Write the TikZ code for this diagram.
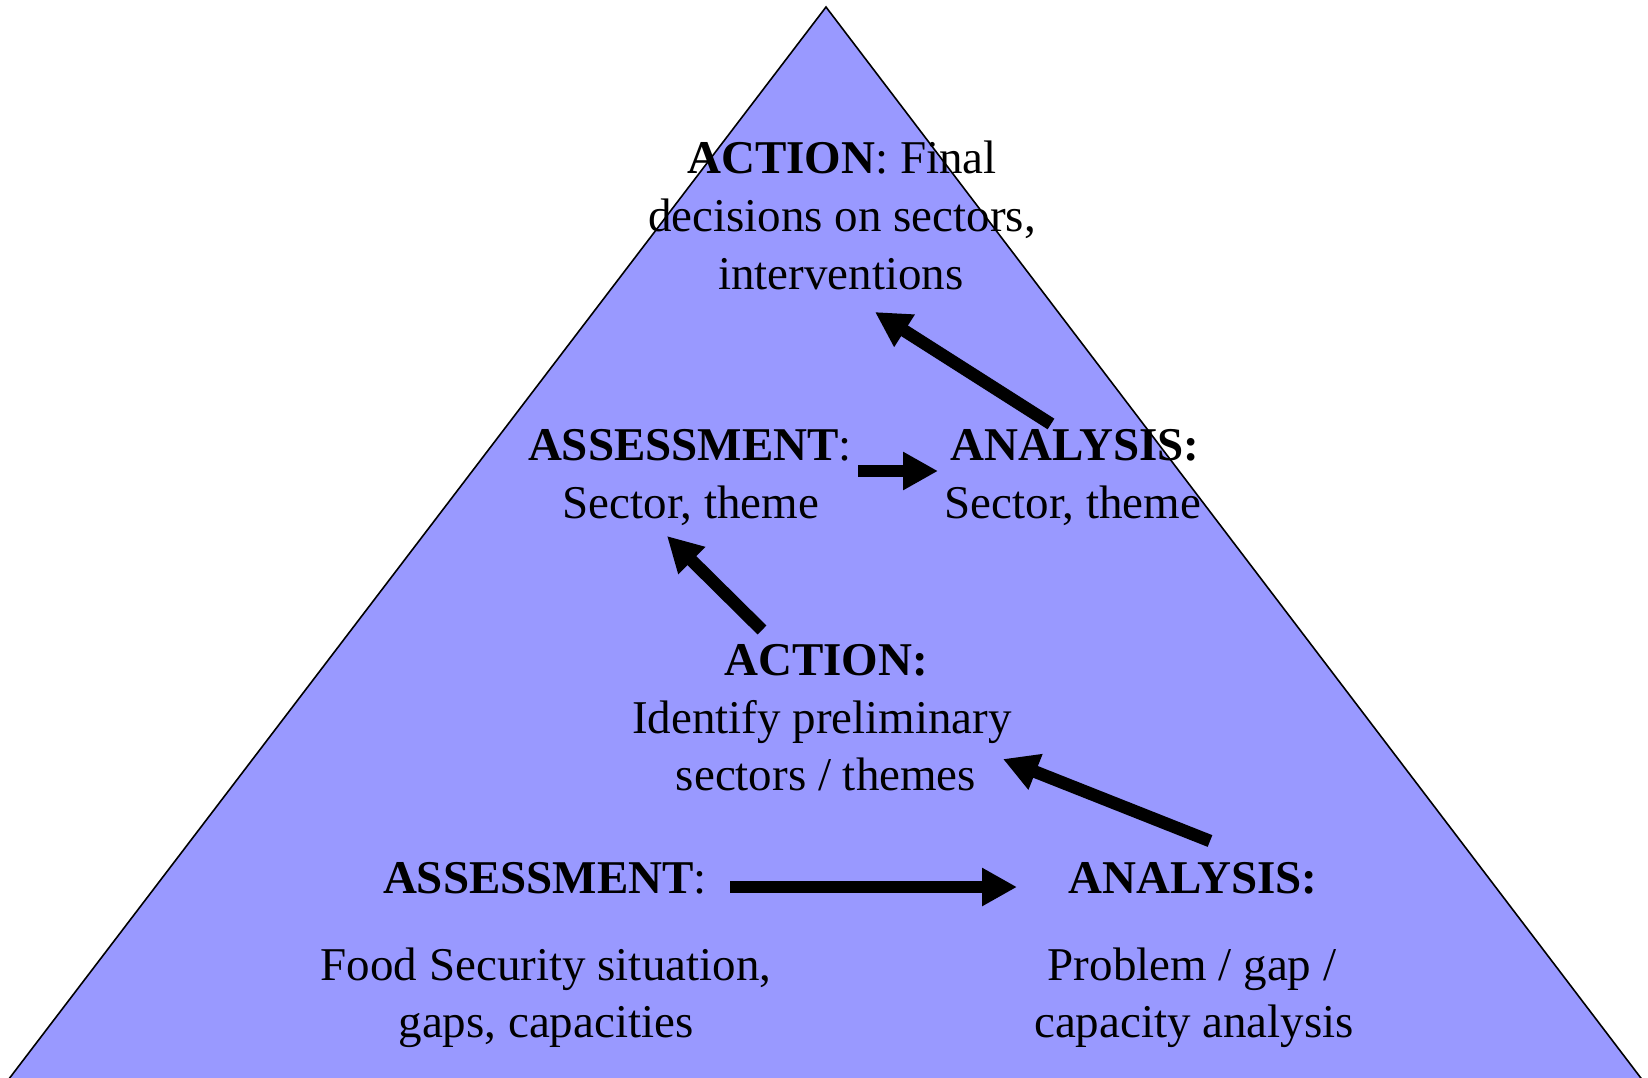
\documentclass[tikz,border=0pt]{standalone}
\usepackage{fontspec}
\setmainfont{Liberation Serif}
\usetikzlibrary{arrows.meta}
\definecolor{pyramid}{RGB}{153,153,255}
\begin{document}
\begin{tikzpicture}[x=0.5pt,y=-0.5pt,
  label/.style={anchor=base,inner sep=0pt,font=\fontsize{23.5}{28}\selectfont},
  flow/.style={line width=6.3pt,-{Triangle[length=17.5pt,width=18pt]}}]
\useasboundingbox (0,0) rectangle (1648,1077);
% pyramid, its base running past the lower edge
\begin{scope}
  \clip (0,0) rectangle (1648,1077);
  \filldraw[fill=pyramid,draw=black,line width=0.8pt]
    (826,7) -- (1650,1090) -- (0.5,1090) -- cycle;
\end{scope}

% top level
\node[label] (topA) at (842,173) {\textbf{ACTION}: Final};
\node[label] (topB) at (842,231) {decisions on sectors,};
\node[label] (topC) at (841,289) {interventions};

% second level
\node[label] (asA) at (690,460) {\textbf{ASSESSMENT}:};
\node[label] (asB) at (691,518) {Sector, theme};
\node[label] (anA) at (1075,460) {\textbf{ANALYSIS:}};
\node[label] (anB) at (1073,518) {Sector, theme};

% third level
\node[label] (acA) at (826,675) {\textbf{ACTION:}};
\node[label] (acB) at (822,733) {Identify preliminary};
\node[label] (acC) at (826,790) {sectors / themes};

% base level
\node[label] (basA) at (545,893) {\textbf{ASSESSMENT}:};
\node[label] (basB) at (546,980) {Food Security situation,};
\node[label] (basC) at (546,1037) {gaps, capacities};
\node[label] (banA) at (1193,893) {\textbf{ANALYSIS:}};
\node[label] (banB) at (1192,980) {Problem / gap /};
\node[label] (banC) at (1194,1037) {capacity analysis};

% arrow end points
\coordinate (b1) at (730,887);
\coordinate (b2) at (1017,887);
\coordinate (r1) at (1210,841);
\coordinate (r2) at (1003,759);
\coordinate (m1) at (762,630);
\coordinate (m2) at (667,536);
\coordinate (h1) at (858,471);
\coordinate (h2) at (938,471);
\coordinate (t1) at (1051,424);
\coordinate (t2) at (875,312);

\draw[flow] (b1) -- (b2);
\draw[flow] (r1) -- (r2);
\draw[flow] (m1) -- (m2);
\draw[flow] (h1) -- (h2);
\draw[flow] (t1) -- (t2);
\end{tikzpicture}
\end{document}
